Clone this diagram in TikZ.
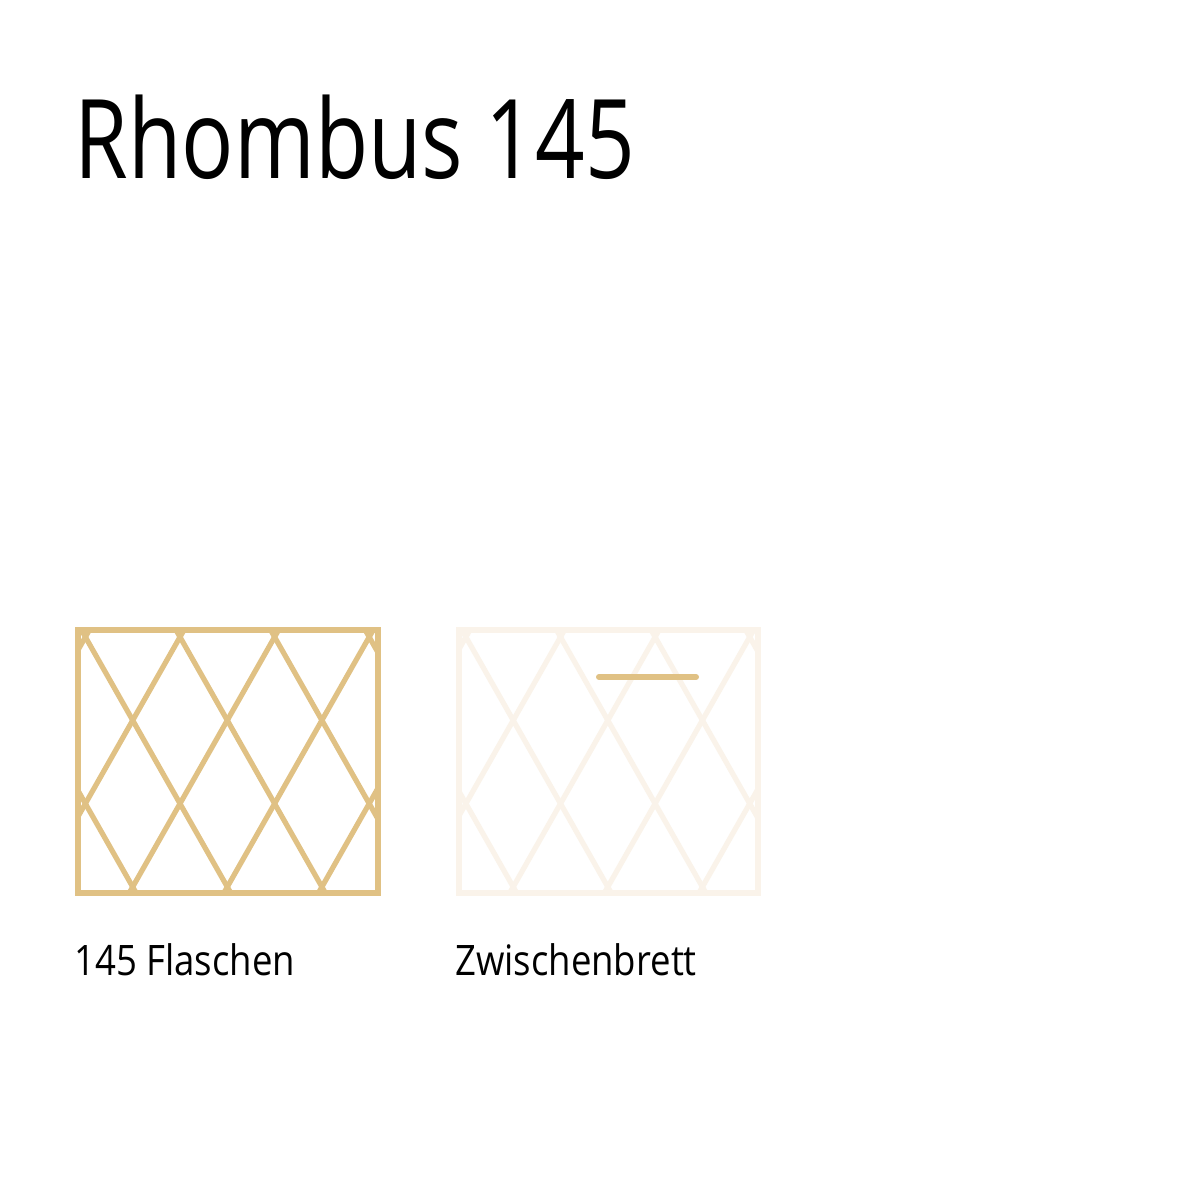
\documentclass[tikz,border=0pt]{standalone}
\usepackage{fontspec}
\setmainfont{Open Sans}[FakeStretch=0.87]
\newfontfamily\titlefont{Open Sans}[FakeStretch=0.79]
\definecolor{gold}{HTML}{E0C184}
\definecolor{pale}{HTML}{FAF3EA}
\tikzset{
  lat/.style={line width=5.2pt},
  frm/.style={line width=6pt},
  lbl/.style={anchor=base west, inner sep=0pt, font=\fontsize{42}{50}\selectfont},
}
\begin{document}
\begin{tikzpicture}[x=1pt,y=-1pt]
\useasboundingbox (0,0) rectangle (1180,1180);
\fill[white] (0,0) rectangle (1180,1180);
\foreach \dx/\col in {0/gold, 380.5/pale} {
  \begin{scope}[xshift=\dx]
    \begin{scope}
      \clip (78,630.3) rectangle (377.5,893);
      \foreach \j in {-4,...,4} {
        \draw[lat,\col] ({180+94.6*\j-4*47.3},{637-4*83.3}) -- ({180+94.6*\j+4*47.3},{637+4*83.3});
        \draw[lat,\col] ({180+94.6*\j+4*47.3},{637-4*83.3}) -- ({180+94.6*\j-4*47.3},{637+4*83.3});
      }
    \end{scope}
    \draw[frm,\col] (78,630.3) rectangle (377.5,893);
  \end{scope}
}
\coordinate (barL) at (599,677);
\coordinate (barR) at (696,677);
\draw[gold,line width=6pt,line cap=round] (barL) -- (barR);
\node[anchor=base west, inner sep=0pt, font=\titlefont\fontsize{110}{120}\selectfont] (title) at (74.5,178) {Rhombus 145};
\node[lbl] (lab1) at (74,975) {145 Flaschen};
\node[lbl] (lab2) at (455,975) {Zwischenbrett};
\end{tikzpicture}
\end{document}
